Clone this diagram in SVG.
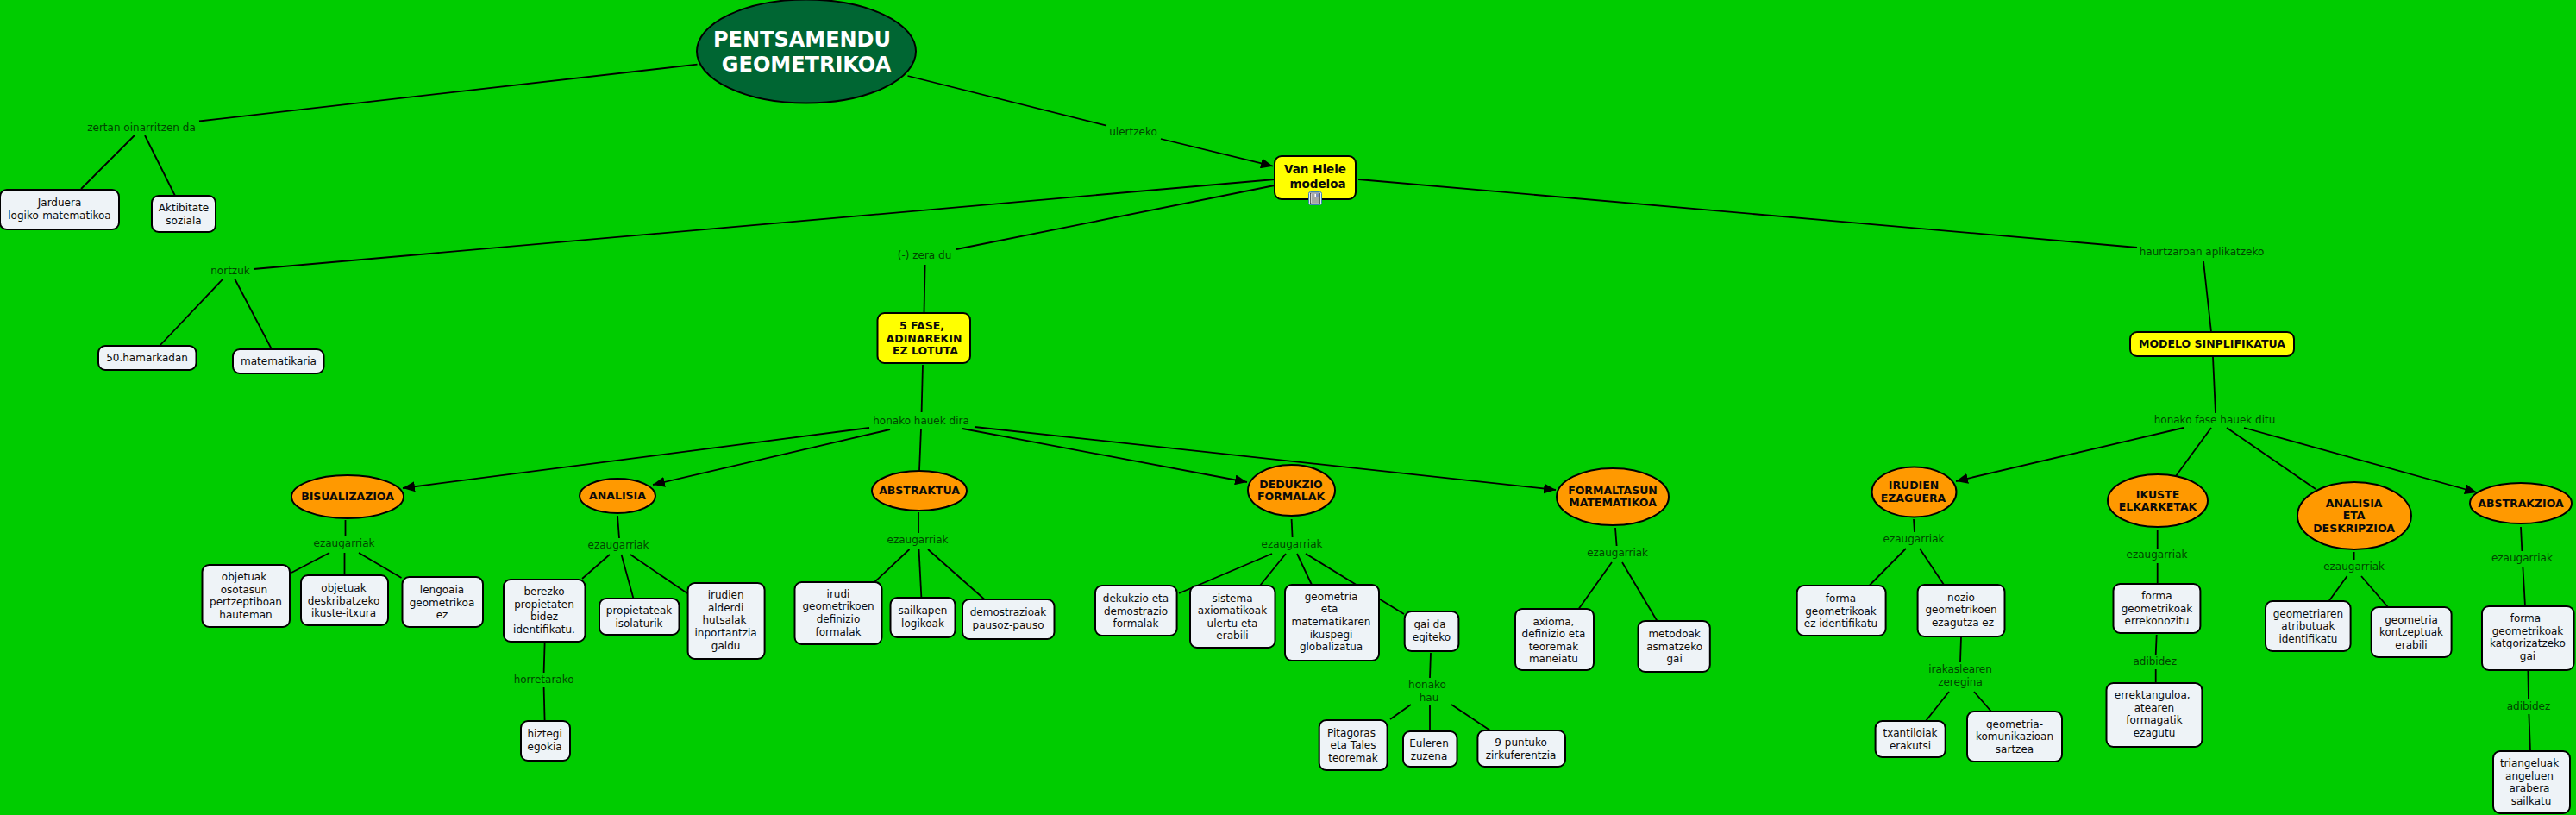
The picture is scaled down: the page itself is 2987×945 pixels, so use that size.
<svg xmlns="http://www.w3.org/2000/svg" width="2987" height="945" viewBox="0 0 2987 945">
<style>
text{font-family:"DejaVu Sans","Liberation Sans",sans-serif;font-size:12px;text-anchor:middle;fill:#0a0a0a}
.l{fill:#004400}
.b{font-weight:bold;font-size:12.5px}
.v{font-weight:bold;font-size:13.5px}
.r{font-weight:bold;font-size:24px;fill:#fff}
.n{fill:#eef3f7;stroke:#000;stroke-width:2}
.y{fill:#ffff00;stroke:#000;stroke-width:2}
.o{fill:#ff9900;stroke:#000;stroke-width:2}
line{stroke:#000;stroke-width:1.8}
.a{marker-end:url(#arrow)}
</style>
<defs>
<marker id="arrow" viewBox="0 0 14 12" refX="14" refY="6" markerWidth="14" markerHeight="12" orient="auto" markerUnits="userSpaceOnUse"><path d="M0 0L14 6L0 12Z" fill="#000"/></marker>
</defs>
<rect id="background" width="2987" height="945" fill="#00cc00"/>
<g id="connectors">
<line x1="231" y1="140.5" x2="808.5" y2="74.7"/>
<line x1="156" y1="157" x2="94" y2="219"/>
<line x1="168" y1="157" x2="203" y2="227"/>
<line x1="294" y1="312" x2="1478" y2="208"/>
<line x1="259" y1="323" x2="186" y2="400"/>
<line x1="272" y1="323" x2="315" y2="405"/>
<line x1="1052.5" y1="88" x2="1283" y2="145.7"/>
<line class="a" x1="1346" y1="161" x2="1476" y2="192.7"/>
<line x1="1478" y1="215" x2="1109" y2="289"/>
<line x1="1072.6" y1="307" x2="1071.5" y2="363"/>
<line x1="1070" y1="423" x2="1068.6" y2="478"/>
<line x1="1575" y1="208" x2="2478" y2="287"/>
<line x1="2555" y1="303" x2="2564" y2="385"/>
<line x1="2566" y1="414" x2="2569" y2="479"/>
<line class="a" x1="2532" y1="496" x2="2268" y2="558"/>
<line x1="2564" y1="496" x2="2523" y2="552"/>
<line x1="2582" y1="496" x2="2685" y2="567"/>
<line class="a" x1="2602" y1="496" x2="2872" y2="571"/>
<line class="a" x1="1008" y1="496" x2="467" y2="566"/>
<line class="a" x1="1032" y1="498" x2="757" y2="562"/>
<line x1="1068" y1="497" x2="1066" y2="546"/>
<line class="a" x1="1116" y1="497" x2="1446" y2="559"/>
<line class="a" x1="1130" y1="495" x2="1804" y2="568"/>
<line x1="400.5" y1="603" x2="400.5" y2="622"/>
<line x1="382" y1="641" x2="338" y2="664"/>
<line x1="399.5" y1="641" x2="399.5" y2="667"/>
<line x1="416" y1="641" x2="465.5" y2="670"/>
<line x1="716" y1="598" x2="718" y2="624"/>
<line x1="707" y1="643" x2="675" y2="671"/>
<line x1="720.5" y1="643" x2="734.5" y2="694"/>
<line x1="731" y1="643" x2="797" y2="688"/>
<line x1="631.6" y1="746" x2="630.6" y2="780"/>
<line x1="630.6" y1="797" x2="631.6" y2="836"/>
<line x1="1065" y1="594" x2="1065" y2="618"/>
<line x1="1054.5" y1="637" x2="1014" y2="675"/>
<line x1="1065.5" y1="637" x2="1068.4" y2="693"/>
<line x1="1076" y1="637" x2="1141.6" y2="695"/>
<line x1="1497.6" y1="602" x2="1498.6" y2="623"/>
<line x1="1475" y1="642" x2="1367" y2="688"/>
<line x1="1491" y1="642" x2="1461" y2="679"/>
<line x1="1504" y1="642" x2="1521" y2="678"/>
<line x1="1514" y1="642" x2="1628" y2="712"/>
<line x1="1659" y1="757" x2="1658" y2="786"/>
<line x1="1636" y1="817" x2="1612" y2="834"/>
<line x1="1658" y1="817" x2="1658" y2="848"/>
<line x1="1683" y1="817" x2="1728" y2="847"/>
<line x1="1873" y1="612" x2="1874.6" y2="633"/>
<line x1="1869" y1="652" x2="1830.6" y2="706"/>
<line x1="1881" y1="652" x2="1921.5" y2="720"/>
<line x1="2219" y1="602" x2="2220" y2="617"/>
<line x1="2210" y1="636" x2="2167.5" y2="679"/>
<line x1="2226" y1="636" x2="2254" y2="678"/>
<line x1="2274" y1="739" x2="2273" y2="768"/>
<line x1="2260" y1="802" x2="2233" y2="836"/>
<line x1="2289" y1="802" x2="2309" y2="825"/>
<line x1="2501.7" y1="614" x2="2501.7" y2="636"/>
<line x1="2501.7" y1="653" x2="2501.7" y2="677"/>
<line x1="2500.7" y1="736" x2="2499.7" y2="759"/>
<line x1="2499.7" y1="776" x2="2499.7" y2="792"/>
<line x1="2729.6" y1="640" x2="2729.6" y2="649"/>
<line x1="2721.6" y1="668" x2="2700.5" y2="697"/>
<line x1="2738" y1="668" x2="2769" y2="704"/>
<line x1="2923" y1="611" x2="2924.4" y2="639"/>
<line x1="2925.4" y1="658" x2="2928" y2="703"/>
<line x1="2931.4" y1="778" x2="2932" y2="811"/>
<line x1="2932.4" y1="828" x2="2934" y2="871"/>
</g>
<g id="link-labels">
<text class="l" x="164" y="152">zertan oinarritzen da</text>
<text class="l" x="267" y="318">nortzuk</text>
<text class="l" x="1314" y="157">ulertzeko</text>
<text class="l" x="1072" y="300">(-) zera du</text>
<text class="l" x="1068" y="492">honako hauek dira</text>
<text class="l" x="2553" y="296">haurtzaroan aplikatzeko</text>
<text class="l" x="2568" y="491">honako fase hauek ditu</text>
<text class="l" x="399" y="634">ezaugarriak</text>
<text class="l" x="717" y="636">ezaugarriak</text>
<text class="l" x="630.6" y="792">horretarako</text>
<text class="l" x="1064" y="630">ezaugarriak</text>
<text class="l" x="1498" y="635">ezaugarriak</text>
<text class="l" x="1655" y="798">honako</text>
<text class="l" x="1657" y="813">hau</text>
<text class="l" x="1875.6" y="645">ezaugarriak</text>
<text class="l" x="2219" y="629">ezaugarriak</text>
<text class="l" x="2273" y="780">irakaslearen</text>
<text class="l" x="2273" y="795">zeregina</text>
<text class="l" x="2501" y="647">ezaugarriak</text>
<text class="l" x="2498.7" y="771">adibidez</text>
<text class="l" x="2729.6" y="661">ezaugarriak</text>
<text class="l" x="2924.4" y="651">ezaugarriak</text>
<text class="l" x="2932" y="823">adibidez</text>
</g>
<g id="root"><ellipse cx="935" cy="59.5" rx="127" ry="60" fill="#006633" stroke="#000" stroke-width="2"/><text class="r" x="930" y="54">PENTSAMENDU</text><text class="r" x="935" y="83">GEOMETRIKOA</text></g>
<g id="jarduera"><rect class="n" x="0" y="220" width="138" height="46" rx="8"/><text x="69" y="239">Jarduera</text><text x="69" y="254">logiko-matematikoa</text></g>
<g id="aktibitate"><rect class="n" x="176" y="227" width="74" height="42" rx="8"/><text x="213" y="245">Aktibitate</text><text x="213" y="260">soziala</text></g>
<g id="hamarkadan"><rect class="n" x="114" y="401" width="113.500" height="28" rx="8"/><text x="170.500" y="419">50.hamarkadan</text></g>
<g id="matematikaria"><rect class="n" x="270" y="405" width="105.500" height="28" rx="8"/><text x="323" y="423">matematikaria</text></g>
<g id="van-hiele"><rect class="y" x="1478" y="181" width="94" height="50" rx="8"/><text class="v" x="1525" y="201">Van Hiele</text><text class="v" x="1528" y="218">modeloa</text>
<rect x="1517.500" y="222.500" width="15" height="15" rx="2" fill="#dfeaf5" stroke="#3d7fb5"/><rect x="1519.500" y="224" width="11" height="12" fill="#fff" stroke="#222" stroke-width="0.700"/><rect x="1526" y="224.500" width="4" height="4" fill="#7f8fc0"/><path d="M1520.500 226h4M1520.500 228h4M1520.500 230h9M1520.500 232h9M1520.500 234h9" stroke="#222" stroke-width="0.800" fill="none"/></g>
<g id="bost-fase"><rect class="y" x="1017.500" y="363" width="107.500" height="58" rx="8"/><text class="b" x="1069" y="382">5 FASE,</text><text class="b" x="1071.500" y="397">ADINAREKIN</text><text class="b" x="1073" y="411">EZ LOTUTA</text></g>
<g id="modelo"><rect class="y" x="2470" y="385" width="190" height="28" rx="8"/><text class="b" x="2565" y="403">MODELO SINPLIFIKATUA</text></g>
<g id="bisualizazioa"><ellipse class="o" cx="403" cy="576" rx="65" ry="25"/><text class="b" x="403" y="580">BISUALIZAZIOA</text></g>
<g id="analisia"><ellipse class="o" cx="716" cy="575" rx="44" ry="20"/><text class="b" x="716" y="579">ANALISIA</text></g>
<g id="abstraktua"><ellipse class="o" cx="1066" cy="569" rx="55" ry="23"/><text class="b" x="1066" y="573">ABSTRAKTUA</text></g>
<g id="dedukzio"><ellipse class="o" cx="1497.500" cy="568.500" rx="50.500" ry="29.500"/><text class="b" x="1497" y="566">DEDUKZIO</text><text class="b" x="1497" y="580">FORMALAK</text></g>
<g id="formaltasun"><ellipse class="o" cx="1870" cy="576" rx="65" ry="33"/><text class="b" x="1870" y="573">FORMALTASUN</text><text class="b" x="1870" y="587">MATEMATIKOA</text></g>
<g id="irudien-ezaguera"><ellipse class="o" cx="2219.500" cy="570.500" rx="49" ry="29"/><text class="b" x="2219" y="567">IRUDIEN</text><text class="b" x="2218.500" y="582">EZAGUERA</text></g>
<g id="ikuste"><ellipse class="o" cx="2502" cy="580.500" rx="58" ry="30.500"/><text class="b" x="2502" y="578">IKUSTE</text><text class="b" x="2502" y="592">ELKARKETAK</text></g>
<g id="analisia-eta"><ellipse class="o" cx="2730" cy="598" rx="66" ry="39"/><text class="b" x="2729.600" y="588">ANALISIA</text><text class="b" x="2729.600" y="602">ETA</text><text class="b" x="2729.600" y="617">DESKRIPZIOA</text></g>
<g id="abstrakzioa"><ellipse class="o" cx="2923" cy="583.500" rx="59" ry="23.500"/><text class="b" x="2923" y="588">ABSTRAKZIOA</text></g>
<g id="n1"><rect class="n" x="234.500" y="655" width="101.500" height="72" rx="8"/><text x="283" y="673">objetuak</text><text x="283" y="688">osotasun</text><text x="285" y="702">pertzeptiboan</text><text x="285" y="717">hauteman</text></g>
<g id="n2"><rect class="n" x="349" y="667" width="101" height="58" rx="8"/><text x="398.500" y="686">objetuak</text><text x="398.500" y="701">deskribatzeko</text><text x="398.500" y="715">ikuste-itxura</text></g>
<g id="n3"><rect class="n" x="466.500" y="669" width="93.500" height="58" rx="8"/><text x="512.500" y="688">lengoaia</text><text x="512.500" y="703">geometrikoa</text><text x="512.500" y="717">ez</text></g>
<g id="n4"><rect class="n" x="584" y="672" width="94.500" height="72" rx="8"/><text x="631" y="690">berezko</text><text x="631" y="705">propietaten</text><text x="631" y="719">bidez</text><text x="631" y="734">identifikatu.</text></g>
<g id="n5"><rect class="n" x="695" y="694" width="92.500" height="42" rx="8"/><text x="741" y="712">propietateak</text><text x="741" y="727">isolaturik</text></g>
<g id="n6"><rect class="n" x="797.600" y="676" width="89" height="88" rx="8"/><text x="841.600" y="694">irudien</text><text x="841.600" y="709">alderdi</text><text x="840" y="723">hutsalak</text><text x="841.600" y="738">inportantzia</text><text x="841.600" y="753">galdu</text></g>
<g id="n7"><rect class="n" x="604" y="836" width="57" height="46" rx="8"/><text x="631.600" y="855">hiztegi</text><text x="631.600" y="870">egokia</text></g>
<g id="n8"><rect class="n" x="921.500" y="675" width="101" height="72" rx="8"/><text x="972" y="693">irudi</text><text x="972" y="707">geometrikoen</text><text x="972" y="722">definizio</text><text x="972" y="737">formalak</text></g>
<g id="n9"><rect class="n" x="1032.500" y="693" width="75" height="46" rx="8"/><text x="1070" y="712">sailkapen</text><text x="1070" y="727">logikoak</text></g>
<g id="n10"><rect class="n" x="1116" y="695" width="106.500" height="46" rx="8"/><text x="1169" y="714">demostrazioak</text><text x="1169" y="729">pausoz-pauso</text></g>
<g id="n11"><rect class="n" x="1270" y="679" width="94.600" height="58" rx="8"/><text x="1317" y="698">dekukzio eta</text><text x="1317" y="713">demostrazio</text><text x="1317" y="727">formalak</text></g>
<g id="n12"><rect class="n" x="1380" y="679" width="98.500" height="72" rx="8"/><text x="1429" y="698">sistema</text><text x="1429" y="712">axiomatikoak</text><text x="1429" y="727">ulertu eta</text><text x="1429" y="741">erabili</text></g>
<g id="n13"><rect class="n" x="1490" y="678" width="109" height="88" rx="8"/><text x="1543.500" y="696">geometria</text><text x="1541.600" y="710">eta</text><text x="1543.500" y="725">matematikaren</text><text x="1543.500" y="740">ikuspegi</text><text x="1543.500" y="754">globalizatua</text></g>
<g id="n14"><rect class="n" x="1628.700" y="709" width="62.700" height="46" rx="8"/><text x="1658" y="728">gai da</text><text x="1660" y="743">egiteko</text></g>
<g id="n15"><rect class="n" x="1529.700" y="835" width="78.900" height="58" rx="8"/><text x="1567" y="854">Pitagoras</text><text x="1569" y="868">eta Tales</text><text x="1569" y="883">teoremak</text></g>
<g id="n16"><rect class="n" x="1627" y="848" width="62.500" height="41" rx="8"/><text x="1657" y="866">Euleren</text><text x="1657" y="881">zuzena</text></g>
<g id="n17"><rect class="n" x="1713.400" y="847" width="101.600" height="42" rx="8"/><text x="1763.600" y="865">9 puntuko</text><text x="1763.600" y="880">zirkuferentzia</text></g>
<g id="n18"><rect class="n" x="1757" y="706" width="91" height="71" rx="8"/><text x="1801.400" y="725">axioma,</text><text x="1801.400" y="739">definizio eta</text><text x="1801.400" y="754">teoremak</text><text x="1801.400" y="768">maneiatu</text></g>
<g id="n19"><rect class="n" x="1899.500" y="720" width="83.300" height="59" rx="8"/><text x="1941.600" y="739">metodoak</text><text x="1941.600" y="754">asmatzeko</text><text x="1941.600" y="768">gai</text></g>
<g id="n20"><rect class="n" x="2083.700" y="679" width="102.900" height="58" rx="8"/><text x="2134.500" y="698">forma</text><text x="2134.500" y="713">geometrikoak</text><text x="2134.500" y="727">ez identifikatu</text></g>
<g id="n21"><rect class="n" x="2223.600" y="678" width="100.900" height="60" rx="8"/><text x="2274" y="697">nozio</text><text x="2274" y="711">geometrikoen</text><text x="2276" y="726">ezagutza ez</text></g>
<g id="n22"><rect class="n" x="2174.600" y="836" width="81.100" height="42" rx="8"/><text x="2215" y="854">txantiloiak</text><text x="2215" y="869">erakutsi</text></g>
<g id="n23"><rect class="n" x="2281" y="825" width="110" height="58" rx="8"/><text x="2336" y="844">geometria-</text><text x="2336" y="858">komunikazioan</text><text x="2336" y="873">sartzea</text></g>
<g id="n24"><rect class="n" x="2450.500" y="677" width="100.900" height="57" rx="8"/><text x="2501" y="695">forma</text><text x="2501" y="710">geometrikoak</text><text x="2501" y="724">errekonozitu</text></g>
<g id="n25"><rect class="n" x="2442.500" y="792" width="110.900" height="74" rx="8"/><text x="2495.700" y="810">errektanguloa,</text><text x="2498" y="825">atearen</text><text x="2498" y="839">formagatik</text><text x="2498" y="854">ezagutu</text></g>
<g id="n26"><rect class="n" x="2627" y="697" width="98.600" height="58" rx="8"/><text x="2676.400" y="716">geometriaren</text><text x="2676.400" y="730">atributuak</text><text x="2676.400" y="745">identifikatu</text></g>
<g id="n27"><rect class="n" x="2749.700" y="704" width="92.900" height="58" rx="8"/><text x="2796" y="723">geometria</text><text x="2796" y="737">kontzeptuak</text><text x="2796" y="752">erabili</text></g>
<g id="n28"><rect class="n" x="2878" y="703" width="106.600" height="74" rx="8"/><text x="2928.400" y="721">forma</text><text x="2931" y="736">geometrikoak</text><text x="2931" y="750">katgorizatzeko</text><text x="2931" y="765">gai</text></g>
<g id="n29"><rect class="n" x="2891" y="871" width="89" height="72" rx="8"/><text x="2933" y="889">triangeluak</text><text x="2933" y="904">angeluen</text><text x="2933" y="918">arabera</text><text x="2935" y="933">sailkatu</text></g>
</svg>
